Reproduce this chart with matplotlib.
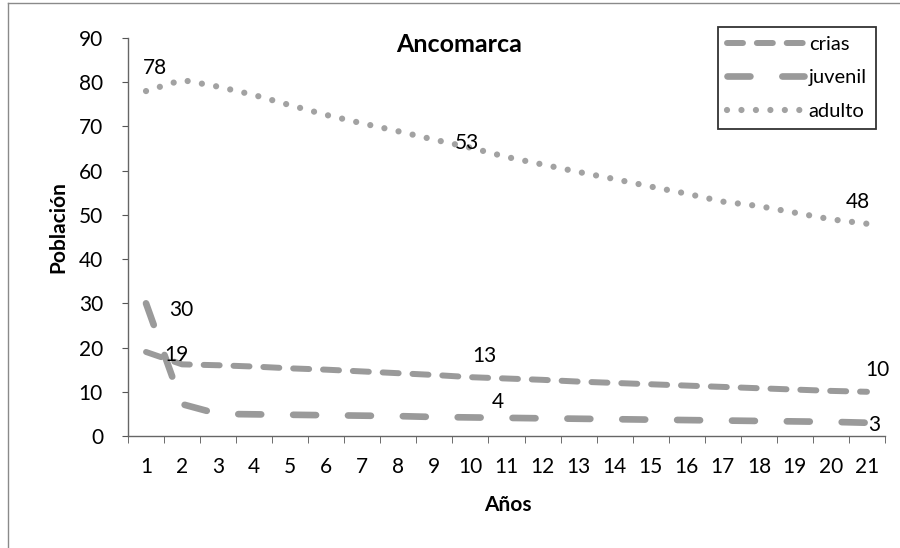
import matplotlib
matplotlib.use("Agg")
import matplotlib.pyplot as plt
from matplotlib.lines import Line2D

plt.rcParams["font.family"] = ["Lato", "DejaVu Sans"]
plt.rcParams["lines.scale_dashes"] = False

# Population per year, Ancomarca
years = list(range(1, 22))
crias = [19, 16.2, 16.0, 15.7, 15.3, 15.0, 14.6, 14.2, 13.8, 13.3, 13.0,
         12.7, 12.3, 12.0, 11.7, 11.4, 11.1, 10.8, 10.5, 10.2, 10]
juvenil = [30, 7.2, 5.0, 4.9, 4.8, 4.7, 4.6, 4.5, 4.3, 4.2, 4.1,
           4.0, 3.9, 3.8, 3.7, 3.6, 3.5, 3.4, 3.3, 3.2, 3]
adulto = [78, 80.5, 79.0, 77.1, 74.8, 72.6, 70.7, 68.9, 67.0, 65.2, 63.1,
          61.4, 59.7, 58.1, 56.4, 54.8, 53, 52.0, 50.5, 49.0, 48]

fig = plt.figure(figsize=(9, 5.48), dpi=100)
ax = fig.add_axes([128 / 900, 1 - 436 / 548, 757 / 900, 398 / 548])

gray = "#9a9a9a"
ax.plot(years, crias, color=gray, lw=4.3, dashes=(11.5, 10), dash_capstyle="round",
        label="crias")
ax.plot(years, juvenil, color=gray, lw=4.8, dashes=(16.5, 23), dash_capstyle="round",
        label="juvenil")
ax.plot(years, adulto, color="#a2a2a2", lw=4.5, dashes=(0.01, 10.4),
        dash_capstyle="round", label="adulto")

# data labels: (series, index, text x, text y)
labels = [
    (adulto, 0, 1.25, 83.3),
    (adulto, 16, 9.9, 66.3),
    (adulto, 20, 20.75, 52.9),
    (juvenil, 0, 1.97, 28.5),
    (crias, 0, 1.83, 18.3),
    (crias, 9, 10.4, 18.1),
    (crias, 20, 21.28, 14.9),
    (juvenil, 9, 10.76, 7.7),
    (juvenil, 20, 21.2, 2.5),
]
for series, i, tx, ty in labels:
    ax.annotate(f"{series[i]:.0f}", xy=(years[i], series[i]), xytext=(tx, ty),
                textcoords="data", ha="center", va="center", fontsize=15)

ax.set_xlim(0.5, 21.5)
ax.set_ylim(0, 90)
ax.set_yticks(range(0, 91, 10))
ax.set_xticks(years)
ax.set_xticks([y + 0.5 for y in range(0, 22)], minor=True)
ax.tick_params(axis="x", which="major", length=0, pad=15, labelsize=15)
ax.tick_params(axis="x", which="minor", length=5, direction="out", color="#555555")
ax.tick_params(axis="y", length=4, direction="out", pad=14, labelsize=15, color="#555555")

for side in ["top", "right"]:
    ax.spines[side].set_visible(False)
for side in ["left", "bottom"]:
    ax.spines[side].set_color("#666666")
    ax.spines[side].set_linewidth(1.0)

fig.text(508 / 900, 1 - 505 / 548, "Años", ha="center", va="center",
         fontsize=15, fontweight="bold")
fig.text(58 / 900, 1 - 227 / 548, "Población", ha="center", va="center",
         rotation=90, fontsize=15, fontweight="bold")
fig.text(459 / 900, 1 - 45 / 548, "Ancomarca", ha="center", va="center",
         fontsize=18, fontweight="bold")

leg = ax.legend(loc="upper right", bbox_to_anchor=(876 / 900, 1 - 27 / 548),
                bbox_transform=fig.transFigure, fontsize=14.5, frameon=True,
                fancybox=False, handlelength=3.8, handletextpad=0.25,
                labelspacing=0.8, borderpad=0.45, borderaxespad=0)
leg.get_frame().set_edgecolor("black")
leg.get_frame().set_linewidth(1.3)

# outer chart border
fig.add_artist(Line2D([8 / 900, 8 / 900], [0, 1 - 3 / 548], transform=fig.transFigure,
                      color="#8a8a8a", lw=1))
fig.add_artist(Line2D([8 / 900, 1], [1 - 3 / 548, 1 - 3 / 548], transform=fig.transFigure,
                      color="#8a8a8a", lw=1))

fig.savefig("out.png", dpi=100)
